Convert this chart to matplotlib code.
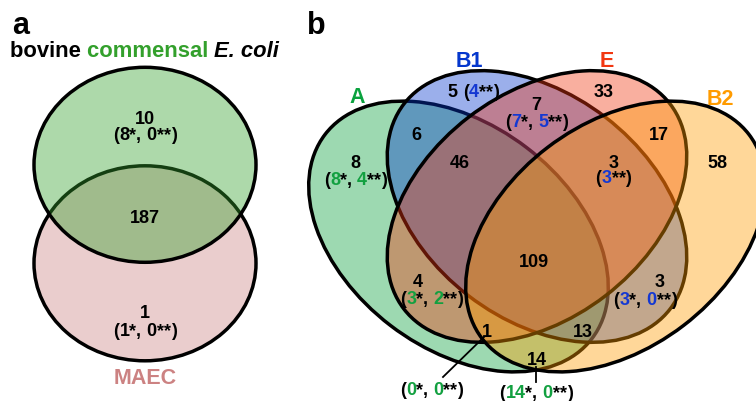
import matplotlib
matplotlib.use("Agg")
import matplotlib.pyplot as plt
from matplotlib.patches import Ellipse
from matplotlib.font_manager import FontProperties

FONT = "Liberation Sans"

# ---------------- data ----------------
# panel a
a_sets = ["bovine commensal E. coli", "MAEC"]
a_regions = ["commensal only", "both", "MAEC only"]
a_counts = [10, 187, 1]
a_star = [8, None, 1]
a_dstar = [0, None, 0]

# panel b
b_sets = ["A", "B1", "E", "B2"]
b_regions = ["A", "B1", "E", "B2", "A&B1", "B1&E", "E&B2", "A&B1&E",
             "B1&E&B2", "A&B1&E&B2", "A&E", "A&E&B2", "A&B1&B2", "B1&B2", "A&B2"]
b_counts = [8, 5, 33, 58, 6, 7, 17, 46, 3, 109, 4, 1, 13, 3, 14]
b_star = [8, None, None, None, None, 7, None, None, None, None, 3, 0, None, 3, 14]
b_dstar = [4, 4, None, None, None, 5, None, None, 3, None, 2, 0, None, 0, 0]

# ---------------- style / layout ----------------
GREEN_A = "#33a02c"
PINK = "#cc8282"
COL_B = {"A": "#0aa23e", "B1": "#0537cd", "E": "#f23711", "B2": "#ff9b00"}
HL_GREEN = "#12a040"
HL_BLUE = "#1438d2"
ALPHA = 0.4
LW = 2.5
NUM_SIZE = 13
LBL_SIZE = 15.5

fig = plt.figure(figsize=(7.56, 4.02), dpi=100)
ax = fig.add_axes([0, 0, 1, 1])
ax.set_xlim(0, 756)
ax.set_ylim(402, 0)
ax.axis("off")
renderer = fig.canvas.get_renderer()


def adv(s, fp):
    w1, _, _ = renderer.get_text_width_height_descent("|" + s + "|", fp, ismath=False)
    w0, _, _ = renderer.get_text_width_height_descent("||", fp, ismath=False)
    return w1 - w0


def rich(x, y, parts, size=NUM_SIZE, ha="center"):
    fps = [FontProperties(family=FONT, weight="bold", style=st, size=size) for _, _, st in parts]
    widths = [adv(s, fp) for (s, _, _), fp in zip(parts, fps)]
    x0 = x - sum(widths) / 2 if ha == "center" else x
    for (s, c, _), fp, w in zip(parts, fps, widths):
        ax.text(x0, y, s, color=c, fontproperties=fp, ha="left", va="baseline")
        x0 += w


def paren_parts(star, dstar, hl):
    parts = [("(", "black", "normal")]
    if star is not None:
        parts += [(str(star), hl, "normal"), ("*", "black", "normal")]
        if dstar is not None:
            parts += [(", ", "black", "normal")]
    if dstar is not None:
        parts += [(str(dstar), hl, "normal"), ("**", "black", "normal")]
    parts += [(")", "black", "normal")]
    return parts


# ---------------- panel a ----------------
a_shapes = {"MAEC": ((145, 264.3), PINK), "bovine commensal E. coli": ((145, 165.8), GREEN_A)}
for name in ["MAEC", "bovine commensal E. coli"]:
    (cx, cy), col = a_shapes[name]
    ax.add_patch(Ellipse((cx, cy), 222, 195, facecolor=col, alpha=ALPHA, edgecolor="none"))
    ax.add_patch(Ellipse((cx, cy), 222, 195, facecolor="none", edgecolor="black", lw=LW))

a_pos = {"commensal only": (145, 123.5, 140.5), "both": (145, 223.2, None), "MAEC only": (145, 318.3, 336.3)}
for reg, n, s, d in zip(a_regions, a_counts, a_star, a_dstar):
    x, y1, y2 = a_pos[reg]
    rich(x, y1, [(str(n), "black", "normal")])
    if y2 is not None:
        rich(x, y2, paren_parts(s, d, "black"))

ax.text(12, 34, "a", fontproperties=FontProperties(family=FONT, weight="bold", size=22), va="baseline")
rich(10, 57, [("bovine ", "black", "normal"), ("commensal ", GREEN_A, "normal"),
              ("E. coli", "black", "italic")], size=15.8, ha="left")
rich(145, 384, [("MAEC", PINK, "normal")], size=LBL_SIZE)

# ---------------- panel b ----------------
AXIS_X = 537
ell = {
    "A": ((458.5, 237.5), 168, 112, 37.4),
    "B1": ((AXIS_X, 207.5), 168, 112.5, 37.6),
    "E": ((AXIS_X, 207.5), 168, 112.5, -37.6),
    "B2": ((2 * AXIS_X - 458.5, 237.5), 168, 112, -37.4),
}
for name in b_sets:
    (cx, cy), a, b, ang = ell[name]
    ax.add_patch(Ellipse((cx, cy), 2 * a, 2 * b, angle=ang, facecolor=COL_B[name],
                         alpha=ALPHA, edgecolor="none"))
    ax.add_patch(Ellipse((cx, cy), 2 * a, 2 * b, angle=ang, facecolor="none",
                         edgecolor="black", lw=LW))

ax.text(307, 34, "b", fontproperties=FontProperties(family=FONT, weight="bold", size=22), va="baseline")
b_label_pos = {"A": (357.5, 103.3), "B1": (469.5, 66.7), "E": (606.7, 66.7), "B2": (720, 105)}
for name in b_sets:
    x, y = b_label_pos[name]
    rich(x, y, [(name, COL_B[name], "normal")], size=LBL_SIZE)

# (x, baseline of count, baseline of bracket line or None, highlight colour, inline)
b_pos = {
    "A": (355.5, 168.3, 185, HL_GREEN, False),
    "B1": (473.5, 96.7, None, HL_BLUE, True),
    "E": (604, 96.7, None, None, False),
    "B2": (717, 168.3, None, None, False),
    "A&B1": (416.7, 140, None, None, False),
    "B1&E": (536.7, 110, 126.7, HL_BLUE, False),
    "E&B2": (659, 140, None, None, False),
    "A&B1&E": (460, 168.3, None, None, False),
    "B1&E&B2": (613.5, 168.3, 183.3, HL_BLUE, False),
    "A&B1&E&B2": (534, 266.7, None, None, False),
    "A&E": (418, 286.7, None, None, False),
    "A&E&B2": (487, 336.7, None, None, False),
    "A&B1&B2": (583, 336.7, None, None, False),
    "B1&B2": (660, 286.7, None, None, False),
    "A&B2": (537, 365, None, None, False),
}
extra_bracket = {"A&E": (431.7, 304, HL_GREEN), "B1&B2": (645, 305, HL_BLUE),
                 "A&E&B2": (431.7, 395, HL_GREEN), "A&B2": (536, 398.3, HL_GREEN)}

for reg, n, s, d in zip(b_regions, b_counts, b_star, b_dstar):
    x, y1, y2, hl, inline = b_pos[reg]
    if inline:
        rich(x, y1, [(str(n) + " ", "black", "normal")] + paren_parts(s, d, hl))
        continue
    rich(x, y1, [(str(n), "black", "normal")])
    if y2 is not None:
        rich(x, y2, paren_parts(s, d, hl))
    elif reg in extra_bracket:
        bx, by, bc = extra_bracket[reg]
        rich(bx, by, paren_parts(s, d, bc))

# leader lines for the two labels placed outside the diagram
ax.plot([443, 484], [378, 338], color="black", lw=1.3)
ax.plot([536, 536], [368, 383], color="black", lw=1.3)

fig.savefig("out.png", dpi=100)
